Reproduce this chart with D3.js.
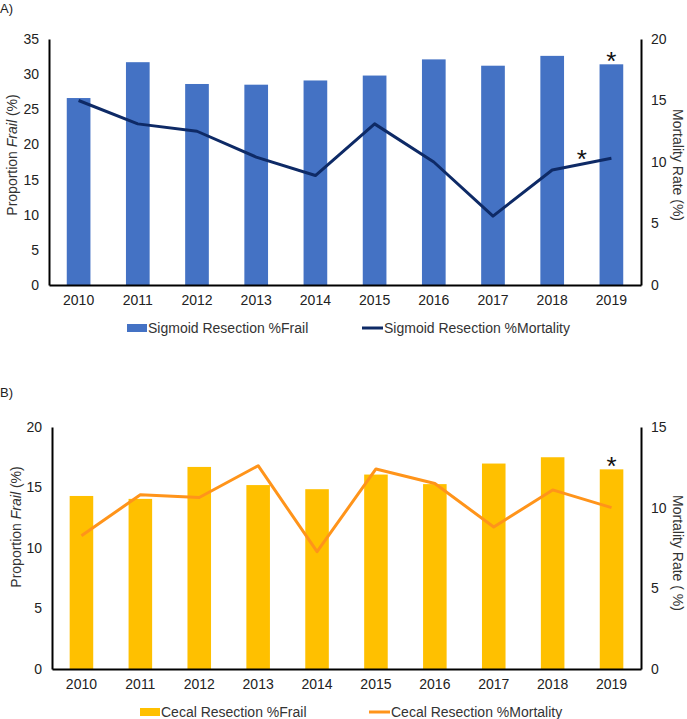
<!DOCTYPE html>
<html><head><meta charset="utf-8">
<script src="https://cdn.jsdelivr.net/npm/d3@7"></script>
<style>body{margin:0;background:#fff}svg{display:block;font-family:"Liberation Sans",Arial,sans-serif}</style>
</head><body>
<svg id="c" width="687" height="719"></svg>
<script>
const years = ["2010","2011","2012","2013","2014","2015","2016","2017","2018","2019"];
const sigmoidFrail = [26.6,31.7,28.6,28.5,29.1,29.8,32.1,31.2,32.6,31.4];
const sigmoidMortality = [15.0,13.1,12.5,10.4,8.9,13.1,10.0,5.6,9.35,10.3];
const cecalFrail = [14.3,14.06,16.7,15.2,14.86,16.07,15.28,16.98,17.5,16.5];
const cecalMortality = [8.26,10.8,10.63,12.6,7.27,12.4,11.5,8.8,11.1,10.0];
const leftTicksA = [0,5,10,15,20,25,30,35];
const rightTicksA = [0,5,10,15,20];
const leftTicksB = [0,5,10,15,20];
const rightTicksB = [0,5,10,15];

const svg = d3.select("#c");

function panel(o){
  const g = svg.append("g");
  const x = d3.scaleBand().domain(years).range([o.x0,o.x1]).paddingInner(0.6).paddingOuter(0.3);
  const yl = d3.scaleLinear().domain([0,o.lmax]).range([o.yb,o.yt]);
  const yr = d3.scaleLinear().domain([0,o.rmax]).range([o.yb,o.yt]);
  g.selectAll("rect.bar").data(o.bars).join("rect")
    .attr("x",(d,i)=>x(years[i])).attr("width",x.bandwidth())
    .attr("y",d=>yl(d)).attr("height",d=>yl(0)-yl(d)).attr("fill",o.barColor);
  const line = d3.line().x((d,i)=>x(years[i])+x.bandwidth()/2).y(d=>yr(d));
  g.append("path").datum(o.line).attr("d",line).attr("fill","none")
    .attr("stroke",o.lineColor).attr("stroke-width",3).attr("stroke-linejoin","round");
  const la = d3.axisLeft(yl).tickValues(o.lt).tickSize(0).tickPadding(10);
  const ra = d3.axisRight(yr).tickValues(o.rt).tickSize(0).tickPadding(10);
  const ba = d3.axisBottom(x).tickSize(0).tickPadding(10);
  [ [la,`translate(${o.x0},0)`], [ra,`translate(${o.x1},0)`], [ba,`translate(0,${o.yb})`] ].forEach(([ax,t])=>{
    const a = g.append("g").attr("transform",t).call(ax);
    a.select(".domain").attr("stroke","#000").attr("stroke-width",2);
    a.selectAll("text").attr("font-size",14).attr("fill","#222").attr("font-family","Liberation Sans, Arial, sans-serif");
  });
  const lt = g.append("text").attr("transform",`translate(${o.ltx},${o.lty}) rotate(-90)`)
    .attr("text-anchor","middle").attr("font-size",14).attr("fill","#333");
  lt.append("tspan").text("Proportion ");
  lt.append("tspan").attr("font-style","italic").text("Frail");
  lt.append("tspan").text(" (%)");
  g.append("text").attr("transform",`translate(${o.rtx},${o.rty}) rotate(90)`)
    .attr("text-anchor","middle").attr("font-size",14).attr("fill","#333").text(o.rtitle);
  o.stars.forEach(s=>{
    const cx = s.between ? (x(years[8])+x(years[9])+x.bandwidth())/2 : x(years[9])+x.bandwidth()/2;
    const cy = s.on==="bar" ? yl(o.bars[9]) - 4 : yr((o.line[8]+o.line[9])/2) - 6;
    g.append("text").attr("x",cx).attr("y",cy+10).attr("text-anchor","middle")
      .attr("font-size",26).attr("fill","#111").text("*");
  });
  const L = g.append("g");
  L.append("rect").attr("x",o.lx1).attr("y",o.ly-4).attr("width",20).attr("height",8).attr("fill",o.barColor);
  L.append("text").attr("x",o.lx1+21).attr("y",o.ly+5).attr("font-size",14).attr("fill","#333").text(o.leg1);
  L.append("line").attr("x1",o.lx2).attr("x2",o.lx2+21).attr("y1",o.ly).attr("y2",o.ly).attr("stroke",o.lineColor).attr("stroke-width",3);
  L.append("text").attr("x",o.lx2+22).attr("y",o.ly+5).attr("font-size",14).attr("fill","#333").text(o.leg2);
  g.append("text").attr("x",0).attr("y",o.py).attr("font-size",13).attr("fill","#222").text(o.plabel);
}

panel({x0:49,x1:641,yt:39,yb:285,lmax:35,rmax:20,lt:leftTicksA,rt:rightTicksA,
  bars:sigmoidFrail,line:sigmoidMortality,barColor:"#4472C4",lineColor:"#0E2A66",
  ltx:17,lty:155,rtx:673,rty:165,rtitle:"Mortality Rate (%)",
  stars:[{on:"bar"},{on:"line",between:true}],
  lx1:127,lx2:362,ly:328,leg1:"Sigmoid Resection %Frail",leg2:"Sigmoid Resection %Mortality",
  plabel:"A)",py:13});

panel({x0:52,x1:641,yt:427,yb:669,lmax:20,rmax:15,lt:leftTicksB,rt:rightTicksB,
  bars:cecalFrail,line:cecalMortality,barColor:"#FFC000",lineColor:"#FF941A",
  ltx:21,lty:527,rtx:673,rty:553,rtitle:"Mortality Rate ( %)",
  stars:[{on:"bar"}],
  lx1:140,lx2:369,ly:712,leg1:"Cecal Resection %Frail",leg2:"Cecal Resection %Mortality",
  plabel:"B)",py:397});
</script>
</body></html>
